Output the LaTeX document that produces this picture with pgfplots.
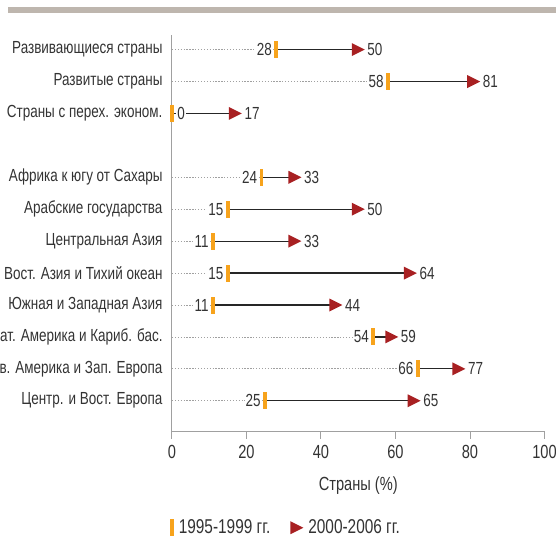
\documentclass[border=0pt]{standalone}
\usepackage{pgfplots}
\pgfplotsset{compat=1.18}
\usepackage{pgfplotstable}
\usepackage{fontspec}
\setmainfont{Liberation Sans}[FakeStretch=0.77]
\definecolor{barorange}{RGB}{247,163,28}
\definecolor{darkred}{RGB}{168,32,34}
\definecolor{topgray}{RGB}{190,182,174}
\definecolor{txt}{RGB}{51,51,51}
\definecolor{axgray}{RGB}{160,160,160}
\definecolor{dotgray}{RGB}{160,160,160}
\pgfdeclareplotmark{obar}{\pgfpathrectangle{\pgfpoint{-1.8bp}{-8.5bp}}{\pgfpoint{3.6bp}{17bp}}\pgfusepathqfill}
\pgfdeclareplotmark{rtri}{\pgfpathmoveto{\pgfpoint{-6.5bp}{-6.5bp}}\pgfpathlineto{\pgfpoint{6.5bp}{0bp}}\pgfpathlineto{\pgfpoint{-6.5bp}{6.5bp}}\pgfpathclose\pgfusepathqfill}
\pgfplotstableread{
y a b
11 28 50
10 58 81
9 0 17
7 24 33
6 15 50
5 11 33
4 15 64
3 11 44
2 54 59
1 66 77
0 25 65
}\data
\pgfplotstableread{
y a b
11 28 50
10 58 81
7 24 33
6 15 50
5 11 33
4 15 64
3 11 44
2 54 59
1 66 77
0 25 65
}\datanz
\pgfplotstableread{
y a b
9 0 17
}\dataz
\begin{document}
\begin{tikzpicture}[font=\fontsize{17.5bp}{20bp}\selectfont, text=txt]
\begin{axis}[
  at={(0,0)}, anchor=south west,
  scale only axis,
  width=372.5bp, height=396.7bp,
  xmin=0, xmax=100, ymin=-0.968, ymax=11.457,
  /pgf/number format/assume math mode=true,
  axis x line=bottom, axis y line=left,
  axis line style={-, draw=axgray, line width=1bp},
  xtick={0,20,40,60,80,100},
  xtick style={draw=axgray, line width=1bp},
  tick align=outside,
  x tick label style={yshift=-3bp, font=\fontsize{19bp}{21bp}\selectfont},
  major tick length=7bp,
  ytick={11,10,9,7,6,5,4,3,2,1,0},
  yticklabels={Развивающиеся страны, Развитые страны, Страны с перех. эконом., Африка к югу от Сахары, Арабские государства, Центральная Азия, {Вост. Азия и Тихий океан\hspace{3.5bp}}, Южная и Западная Азия, Лат. Америка и Кариб. бас., Сев. Америка и Зап. Европа, Центр. и Вост. Европа},
  ytick style={draw=none},
  y tick label style={anchor=east, xshift=1bp},
  xlabel={Страны (\%)},
  xlabel style={at={(axis description cs:0.5,0)}, anchor=center, yshift=-53.5bp, font=\fontsize{19bp}{21bp}\selectfont},
  clip=false,
  legend columns=2,
  legend style={draw=none, fill=none, at={(axis description cs:0,0)}, anchor=west, xshift=-2bp, yshift=-96bp, inner sep=0pt,
    font=\fontsize{20bp}{22bp}\selectfont,
    /tikz/every even column/.style={column sep=15bp}, cells={anchor=west},
    nodes={inner xsep=5bp}},
]
% dotted guide lines from 0 to first value
\addplot[forget plot, draw=dotgray, line width=0.8bp, dash pattern=on 1.3bp off 1.6bp,
  quiver={u=\thisrow{a}, v=0}] table[x expr=0, y=y] {\data};
% solid lines from first to second value
\addplot[forget plot, draw=black!85, line width=1.2bp,
  quiver={u=\thisrow{b}-\thisrow{a}, v=0}] table[x=a, y=y] {\data};
% value labels of first value (left of bar)
\addplot[forget plot, only marks, mark=none,
  nodes near coords={\pgfmathprintnumber{\pgfplotspointmeta}},
  point meta=explicit,
  every node near coord/.style={anchor=east, xshift=-3bp, fill=white, inner sep=1.2bp, text=txt, font=\fontsize{17.5bp}{20bp}\selectfont}]
  table[x=a, y=y, meta=a] {\datanz};
\addplot[forget plot, only marks, mark=none,
  nodes near coords={\pgfmathprintnumber{\pgfplotspointmeta}},
  point meta=explicit,
  every node near coord/.style={anchor=west, xshift=4bp, fill=white, inner sep=1.2bp, text=txt, font=\fontsize{17.5bp}{20bp}\selectfont}]
  table[x=a, y=y, meta=a] {\dataz};
% value labels of second value
\addplot[forget plot, only marks, mark=none,
  nodes near coords={\pgfmathprintnumber{\pgfplotspointmeta}},
  point meta=explicit,
  every node near coord/.style={anchor=west, xshift=8bp, inner sep=1bp, text=txt, font=\fontsize{17.5bp}{20bp}\selectfont}]
  table[x=b, y=y, meta=b] {\data};
% markers
\addplot[only marks, mark=obar, mark options={fill=barorange, draw=none}, draw=none, fill=barorange]
  table[x=a, y=y] {\data};
\addlegendentry{1995-1999 гг.}
\addplot[only marks, mark=rtri, mark options={fill=darkred, draw=none}, draw=none, fill=darkred]
  table[x=b, y=y] {\data};
\addlegendentry{2000-2006 гг.}
\end{axis}
\fill[topgray] (-163.7bp,419bp) rectangle (384bp,424.5bp);
\pgfresetboundingbox
\path[use as bounding box] (-172bp,-107.3bp) rectangle (384bp,431.7bp);
\end{tikzpicture}
\end{document}
